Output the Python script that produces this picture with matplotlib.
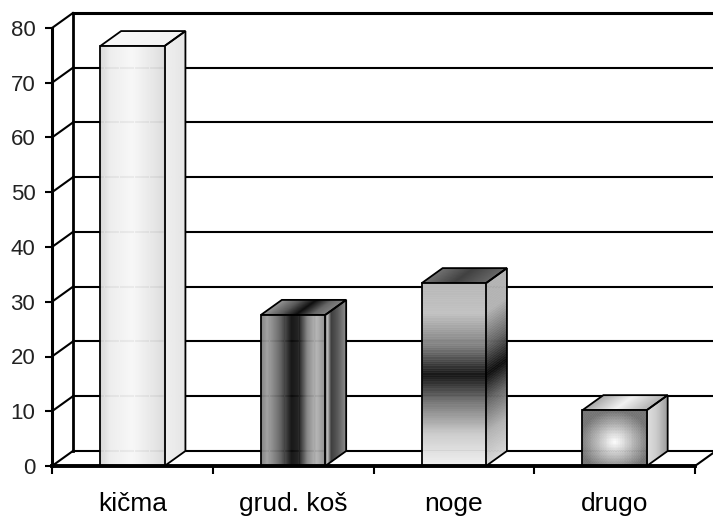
import numpy as np
import matplotlib.pyplot as plt
from matplotlib.patches import Polygon
from matplotlib.collections import PolyCollection

# ------------------------------------------------------------
# data
# ------------------------------------------------------------
categories = ["kičma", "grud. koš", "noge", "drugo"]
values = [76.7, 27.6, 33.4, 10.2]
y_ticks = [0, 10, 20, 30, 40, 50, 60, 70, 80]

plt.rcParams['font.family'] = ['Liberation Sans', 'DejaVu Sans']

fig = plt.figure(figsize=(7.13, 5.17), dpi=100)
ax = fig.add_axes([52 / 713, 51 / 517, 643 / 713, 438 / 517])

x = np.arange(len(categories))
bar_w = 0.4
dx, dy = 0.13, 2.74          # depth of the 3d box in data units
x0, x1 = -0.5, len(categories) - 0.5
ymax = y_ticks[-1]


def grad_h(stops, vals, n=60):
    t = (np.arange(n) + 0.5) / n
    return np.interp(t, stops, vals)[None, :]


def grad_v(stops, vals, n=80):
    t = (np.arange(n) + 0.5) / n
    return np.interp(t, stops, vals)[:, None]


def shade(verts, img, z):
    # verts: bottom-left, bottom-right, top-right, top-left of the face
    p00, p10, p11, p01 = [np.array(p, float) for p in verts]
    ny, nx = img.shape

    def at(u, w):
        return (1 - u) * (1 - w) * p00 + u * (1 - w) * p10 + u * w * p11 + (1 - u) * w * p01

    quads, cols = [], []
    for j in range(ny):
        for k in range(nx):
            u0, u1 = k / nx, (k + 1) / nx
            w0, w1 = j / ny, (j + 1) / ny
            quads.append([at(u0, w0), at(u1, w0), at(u1, w1), at(u0, w1)])
            g = float(img[j, k])
            cols.append((g, g, g))
    pc = PolyCollection(quads, facecolors=cols, edgecolors=cols,
                        linewidths=0.4, zorder=z)
    ax.add_collection(pc)
    ax.add_patch(Polygon(verts, closed=True, fc='none', ec='black', lw=1.3,
                         zorder=z + 0.5))


# ------------------------------------------------------------
# back wall, side wall and floor
# ------------------------------------------------------------
for v in y_ticks:
    lw = 2.2 if v == ymax else 1.5
    ax.plot([x0 + dx, x1 + dx], [v + dy, v + dy], color='black', lw=lw,
            clip_on=False, zorder=1)
    ax.plot([x0, x0 + dx], [v, v + dy], color='black', lw=1.5,
            clip_on=False, zorder=1)
ax.plot([x0 + dx, x0 + dx], [dy, ymax + dy], color='black', lw=2.0,
        clip_on=False, zorder=1)
ax.plot([x1, x1 + dx], [0, dy], color='black', lw=1.5, clip_on=False, zorder=1)

# ------------------------------------------------------------
# bars (front, side, top faces with gray shading)
# ------------------------------------------------------------
r = (np.arange(36) + 0.5) / 36 * 2 - 1
rx, ry = np.meshgrid(r, r)
radial = np.clip(1.0 - 0.5 * np.sqrt(rx ** 2 + (ry + 0.1) ** 2), 0.45, 1.0)

fronts = [
    grad_h([0, 0.15, 0.5, 0.85, 1], [0.84, 0.93, 0.97, 0.9, 0.86]),
    grad_h([0, 0.1, 0.3, 0.47, 0.58, 0.72, 0.86, 1],
           [0.5, 0.62, 0.38, 0.05, 0.1, 0.52, 0.7, 0.55]),
    grad_v([0, 0.18, 0.36, 0.5, 0.66, 0.84, 1],
           [0.95, 0.8, 0.45, 0.08, 0.5, 0.76, 0.72]),
    radial,
]
sides = [
    grad_h([0, 1], [0.94, 0.9]),
    grad_h([0, 0.15, 0.3, 0.6, 1], [0.8, 0.7, 0.25, 0.35, 0.55]),
    grad_v([0, 0.18, 0.36, 0.5, 0.66, 0.84, 1],
           [0.85, 0.7, 0.4, 0.05, 0.4, 0.7, 0.7]),
    grad_h([0, 0.5, 1], [0.88, 0.8, 0.62]),
]
tops = [
    grad_h([0, 1], [0.97, 0.95]),
    grad_h([0, 0.3, 0.55, 0.8, 1], [0.6, 0.35, 0.05, 0.4, 0.5]),
    grad_h([0, 0.5, 1], [0.45, 0.25, 0.4]),
    grad_h([0, 0.5, 1], [0.65, 0.95, 0.7]),
]

for i, v in enumerate(values):
    xl, xr = x[i] - bar_w / 2, x[i] + bar_w / 2
    side = [(xr, 0), (xr + dx, dy), (xr + dx, v + dy), (xr, v)]
    top = [(xl, v), (xr, v), (xr + dx, v + dy), (xl + dx, v + dy)]
    front = [(xl, 0), (xr, 0), (xr, v), (xl, v)]
    shade(side, sides[i], 3)
    shade(top, tops[i], 3)
    shade(front, fronts[i], 4)

# ------------------------------------------------------------
# axes
# ------------------------------------------------------------
ax.set_xlim(x0, x1)
ax.set_ylim(0, ymax)
ax.patch.set_alpha(0)
for s in ['top', 'right']:
    ax.spines[s].set_visible(False)
ax.spines['left'].set_linewidth(2.2)
ax.spines['bottom'].set_linewidth(2.8)
ax.spines['left'].set_zorder(6)
ax.spines['bottom'].set_zorder(6)

ax.set_yticks(y_ticks)
ax.tick_params(axis='y', length=5, width=1.5, pad=7, labelsize=16,
               labelcolor='#222222')
ax.set_xticks(x, categories)
ax.set_xticks(np.arange(x0, x1 + 1), minor=True)
ax.tick_params(axis='x', which='major', length=0, pad=19, labelsize=19)
ax.tick_params(axis='x', which='minor', length=6, width=1.5)

fig.savefig("out.png", dpi=100)
